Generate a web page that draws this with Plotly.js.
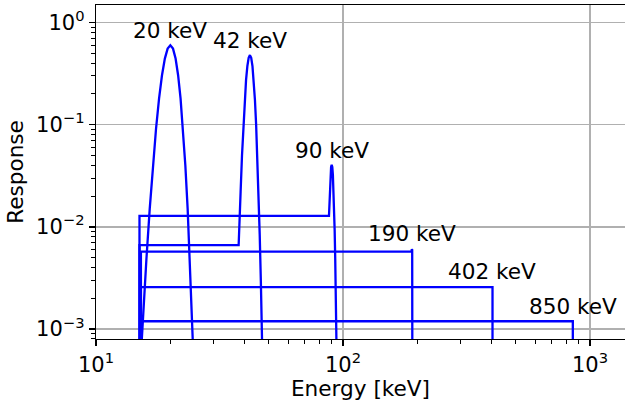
<!DOCTYPE html>
<html>
<head>
<meta charset="utf-8">
<script src="https://cdn.plot.ly/plotly-3.0.1.min.js"></script>
<style>
html,body{margin:0;padding:0;background:#fff;overflow:hidden;}
#chart{width:625px;height:403px;}
</style>
</head>
<body>
<div id="chart"></div>
<script>
// Energies (keV) and responses
const e20 = [15.0, 15.5, 16, 16.5, 17, 17.5, 18, 18.5, 19, 19.5, 20, 20.5, 21, 21.5, 22, 22.5, 23, 23.5, 24, 24.5, 25];
const r20 = [3.2e-4, 1.34e-3, 4.84e-3, 0.0150, 0.0399, 0.0913, 0.180, 0.305, 0.444, 0.556, 0.600, 0.556, 0.444, 0.305, 0.180, 0.0913, 0.0399, 0.0150, 4.84e-3, 1.34e-3, 3.2e-4];

const e42 = [14.99, 15.0, 37.8, 38, 38.5, 39, 39.5, 40, 40.5, 41, 41.5, 42, 42.5, 43, 43.5, 44, 44.5, 45, 45.5, 46, 46.5, 47, 47.5];
const r42 = [1e-9, 6.61e-3, 6.61e-3, 8.6e-3, 0.0219, 0.0497, 0.0995, 0.1755, 0.273, 0.3745, 0.4525, 0.480, 0.4525, 0.3745, 0.273, 0.1755, 0.0995, 0.0497, 0.0219, 8.49e-3, 2.9e-3, 8.7e-4, 2.3e-4];

const e90 = [14.99, 15.0, 87.75, 88, 88.5, 89, 89.5, 90, 90.5, 91, 91.5, 92, 92.5, 93, 93.5, 94, 94.5];
const r90 = [1e-9, 0.0128, 0.0128, 0.0160, 0.0241, 0.0323, 0.0385, 0.0405, 0.0385, 0.0323, 0.0241, 0.0160, 9.4e-3, 4.93e-3, 2.3e-3, 9.5e-4, 3.5e-4];

const e190 = [15.19, 15.2, 189.4, 190, 190.6, 192.3];
const r190 = [1e-9, 5.72e-3, 5.72e-3, 6.04e-3, 5.95e-3, 1e-9];

const e402 = [15.19, 15.2, 403, 403.5];
const r402 = [1e-9, 2.57e-3, 2.57e-3, 1e-9];

const e850 = [15.19, 15.2, 852, 853];
const r850 = [1e-9, 1.19e-3, 1.19e-3, 1e-9];

// Peak labels
const labelText = ["20 keV", "42 keV", "90 keV", "190 keV", "402 keV", "850 keV"];
const labelE = [20, 42, 90, 190, 402, 850];
const labelR = [0.841, 0.671, 0.0565, 8.53e-3, 3.65e-3, 1.66e-3];

// Axis ticks
const xTickVals = [10, 100, 1000];
const xTickText = ["10<sup>1</sup>", "10<sup>2</sup>", "10<sup>3</sup>"];
const yTickVals = [0.001, 0.01, 0.1, 1];
const yTickText = ["10<sup>\u22123</sup>", "10<sup>\u22122</sup>", "10<sup>\u22121</sup>", "10<sup>0</sup>"];
const xMinor = [20, 30, 40, 50, 60, 70, 80, 90, 200, 300, 400, 500, 600, 700, 800, 900];
const yMinor = [8e-4, 9e-4, 2e-3, 3e-3, 4e-3, 5e-3, 6e-3, 7e-3, 8e-3, 9e-3, 0.02, 0.03, 0.04, 0.05, 0.06, 0.07, 0.08, 0.09, 0.2, 0.3, 0.4, 0.5, 0.6, 0.7, 0.8, 0.9];

const series = [[e20, r20], [e42, r42], [e90, r90], [e190, r190], [e402, r402], [e850, r850]];
const traces = series.map(s => ({
  x: s[0], y: s[1], type: 'scatter', mode: 'lines',
  line: {color: '#0000ff', width: 2.3}, hoverinfo: 'skip', showlegend: false
}));

const font = {family: 'DejaVu Sans, sans-serif', size: 21.6, color: '#000'};
const tickFont = {family: 'DejaVu Sans, sans-serif', size: 21, color: '#000'};

const annotations = labelText.map((t, i) => ({
  x: Math.log10(labelE[i]), y: Math.log10(labelR[i]), xref: 'x', yref: 'y',
  text: t, showarrow: false, xanchor: 'center', yanchor: 'middle', font: font
}));

const layout = {
  width: 625, height: 403,
  margin: {l: 96, r: 0, t: 5, b: 64},
  paper_bgcolor: '#fff', plot_bgcolor: '#fff',
  font: font,
  showlegend: false,
  xaxis: {
    type: 'log', range: [1, 3.1417],
    tickmode: 'array', tickvals: xTickVals, ticktext: xTickText,
    ticks: 'outside', ticklen: 6, tickwidth: 1.3, tickcolor: '#000',
    showline: true, linecolor: '#000', linewidth: 1.3, mirror: true,
    showgrid: true, gridcolor: '#b0b0b0', gridwidth: 1.3,
    zeroline: false,
    tickfont: tickFont,
    minor: {tickmode: 'array', tickvals: xMinor, ticks: 'outside', ticklen: 3.5, tickwidth: 1, tickcolor: '#000', showgrid: false},
    title: {text: 'Energy [keV]', font: font, standoff: 4}
  },
  yaxis: {
    type: 'log', range: [-3.098, 0.172],
    tickmode: 'array', tickvals: yTickVals, ticktext: yTickText,
    ticks: 'outside', ticklen: 6, tickwidth: 1.3, tickcolor: '#000',
    showline: true, linecolor: '#000', linewidth: 1.3, mirror: false,
    showgrid: true, gridcolor: '#b0b0b0', gridwidth: 1.3,
    zeroline: false,
    tickfont: tickFont,
    minor: {tickmode: 'array', tickvals: yMinor, ticks: 'outside', ticklen: 3.5, tickwidth: 1, tickcolor: '#000', showgrid: false},
    title: {text: 'Response', font: font, standoff: 6}
  },
  annotations: annotations
};

Plotly.newPlot('chart', traces, layout, {staticPlot: true, displayModeBar: false});
</script>
</body>
</html>
